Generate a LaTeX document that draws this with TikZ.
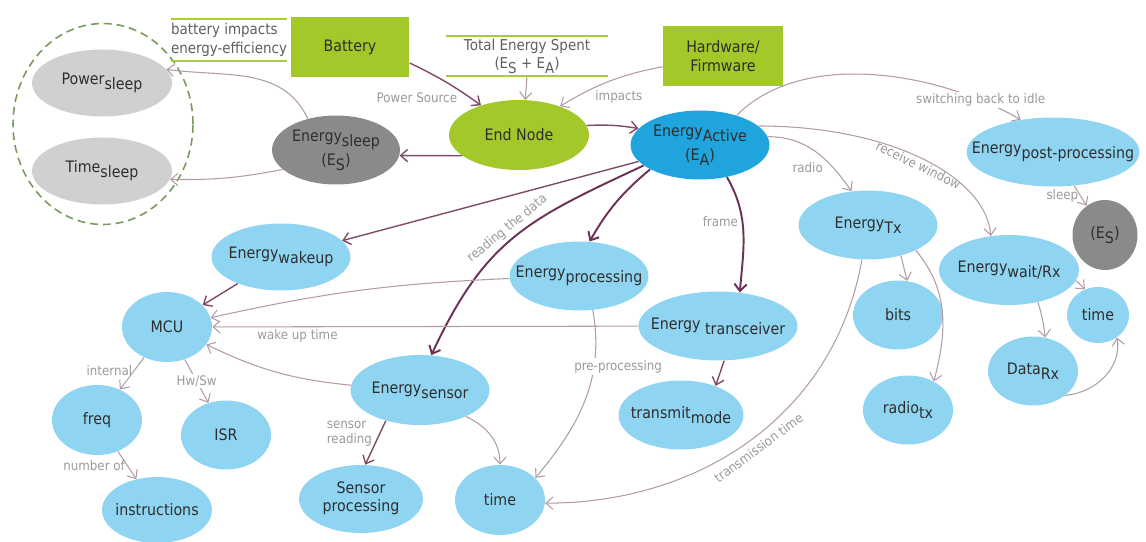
\documentclass[tikz,border=0pt]{standalone}
\usepackage{fontspec}
\setmainfont{DejaVu Sans}[FakeStretch=0.9]
\usetikzlibrary{arrows.meta,shapes.geometric}

\definecolor{cmblue}{HTML}{8FD5F2}
\definecolor{cmactive}{HTML}{1FA4DE}
\definecolor{cmgreen}{HTML}{A3C82A}
\definecolor{cmgrey}{HTML}{D0D0D0}
\definecolor{cmdark}{HTML}{8A8A8A}
\definecolor{nodetext}{HTML}{2E2E2E}
\definecolor{phrasetext}{HTML}{5F5F5F}
\definecolor{labeltext}{HTML}{9A9A9A}
\definecolor{darklink}{HTML}{6A3256}
\definecolor{midlink}{HTML}{7E4B69}
\definecolor{lightlink}{HTML}{B39AA9}
\definecolor{ringgreen}{HTML}{789A5C}
\definecolor{phraseline}{HTML}{A8CC3A}

\newcommand\cmfont{\fontsize{9}{10.5}\selectfont}
\newcommand\labfont{\fontsize{7.5}{8.5}\selectfont}
\newcommand\phrasefont{\fontsize{8.5}{10.5}\selectfont}
\newcommand\lowsub[1]{\raisebox{-.3em}{#1}}

\begin{document}
\begin{tikzpicture}[->,>={Straight Barb[length=4pt,width=7pt]},x=0.02cm,y=0.02cm,
    concept/.style={ellipse,inner sep=0pt,text=nodetext,font=\cmfont,
      execute at begin node={\hbox to 0pt\bgroup\hss},
      execute at end node={\hss\egroup}},
    blue concept/.style={concept,fill=cmblue},
    grey concept/.style={concept,fill=cmgrey},
    block/.style={rectangle,fill=cmgreen,text=nodetext,font=\cmfont,align=center,
      minimum width=2.4cm,minimum height=1.2cm},
    phrase/.style={rectangle,text=phrasetext,font=\phrasefont,inner sep=0pt},
    sleep ring/.style={ellipse,draw=ringgreen,dashed,line width=.9pt,
      dash pattern=on 4.5pt off 2.8pt,minimum width=3.6cm,minimum height=4.02cm},
    wide size/.style={minimum width=2.78cm,minimum height=1.38cm},
    small size/.style={minimum width=1.8cm,minimum height=1.38cm},
    lab/.style={font=\labfont,text=labeltext,inner sep=1pt},
    dark link/.style={every edge/.append style={draw=darklink,line width=1.1pt}},
    mid link/.style={every edge/.append style={draw=midlink,line width=.8pt}},
    light link/.style={every edge/.append style={draw=lightlink,line width=.6pt}}]

  \useasboundingbox (0,0) rectangle (1146,-541);

  % sleep side
  \node[sleep ring] (sleepgrp) at (103,-124) {};
  \node[grey concept,minimum width=2.8cm,minimum height=1.34cm] (psleep) at (102,-83) {Power\lowsub{sleep}};
  \node[grey concept,minimum width=2.8cm,minimum height=1.34cm] (tsleep) at (102,-171) {Time\lowsub{sleep}};
  \node[concept,fill=cmdark,minimum width=2.56cm,minimum height=1.38cm] (esleep) at (336,-150)
    {\begin{tabular}{@{}c@{}}Energy\lowsub{sleep}\\[3pt](E\lowsub{S})\end{tabular}};
  \node[block,minimum width=2.38cm,minimum height=1.22cm] (battery) at (350,-47) {Battery};
  \node[phrase,align=left,minimum width=2.32cm,minimum height=.82cm] (impacts) at (229,-40)
    {battery impacts\\energy-efficiency};

  % top
  \node[phrase,align=center,minimum width=3.22cm,minimum height=.8cm] (total) at (527,-56)
    {Total Energy Spent\\(E\lowsub{S} + E\lowsub{A})};
  \node[block] (hw) at (723,-56) {Hardware/\\Firmware};
  \node[concept,fill=cmgreen,minimum width=2.8cm,minimum height=1.4cm] (endnode) at (519,-135) {End Node};
  \node[concept,fill=cmactive,wide size] (eactive) at (700,-145)
    {\begin{tabular}{@{}c@{}}Energy\lowsub{Active}\\[3pt](E\lowsub{A})\end{tabular}};

  % right side
  \node[blue concept,minimum width=3.46cm,minimum height=1.38cm] (epost) at (1053,-152) {Energy\lowsub{post-processing}};
  \node[concept,fill=cmdark,minimum width=1.3cm,minimum height=1.4cm] (es2) at (1105,-235) {(E\lowsub{S})};
  \node[blue concept,wide size] (etx) at (868,-225) {Energy\lowsub{Tx}};
  \node[blue concept,minimum width=2.8cm,minimum height=1.4cm] (ewait) at (1009,-270) {Energy\lowsub{wait/Rx}};
  \node[blue concept,minimum width=1.24cm,minimum height=1.12cm] (rtime) at (1098,-315) {time};
  \node[blue concept,small size] (bits) at (898,-315) {bits};
  \node[blue concept,small size] (radiotx) at (908,-410) {radio\lowsub{tx}};
  \node[blue concept,small size] (datarx) at (1033,-371) {Data\lowsub{Rx}};

  % lower left
  \node[blue concept,minimum width=2.78cm,minimum height=1.34cm] (ewakeup) at (281,-257) {Energy\lowsub{wakeup}};
  \node[blue concept,small size,minimum height=1.4cm] (mcu) at (167,-327) {MCU};
  \node[blue concept,small size,minimum height=1.4cm] (freq) at (97,-420) {freq};
  \node[blue concept,small size] (isr) at (226,-435) {ISR};
  \node[blue concept,minimum width=2.2cm,minimum height=1.32cm] (instr) at (157,-510) {instructions};
  \node[blue concept,minimum width=2.48cm,minimum height=1.36cm] (sensproc) at (361,-499)
    {\begin{tabular}{@{}c@{}}Sensor\\processing\end{tabular}};
  \node[blue concept,minimum width=2.78cm,minimum height=1.4cm] (esensor) at (420,-390) {Energy\lowsub{sensor}};
  \node[blue concept,small size,minimum height=1.4cm] (btime) at (500,-500) {time};
  \node[blue concept,wide size] (eproc) at (579,-276) {Energy\lowsub{processing}};
  \node[blue concept,minimum width=3.18cm,minimum height=1.38cm] (etrans) at (718,-326) {Energy \lowsub{transceiver}};
  \node[blue concept,minimum width=2.5cm,minimum height=1.38cm] (tmode) at (681,-415) {transmit\lowsub{mode}};

  \foreach \p in {impacts,total}
    \draw[-,phraseline,line width=1pt] (\p.north west) -- (\p.north east) (\p.south west) -- (\p.south east);

  % links
  \path[light link]
    (esleep.132) edge[out=115,in=-8] (psleep.12)
    (esleep.200) edge[bend left=6] (tsleep.-7)
    (total.south) edge (endnode.80)
    (hw.190) edge[bend right=10] node[lab,pos=.4,below=6pt] (limpacts) {impacts} (endnode.35);
  \path[mid link]
    (battery.-15) edge[bend left=5] node[lab,pos=.7,anchor=north east] (lpower) {Power Source} (endnode.142)
    (endnode.200) edge (esleep.-5)
    (endnode.8) edge[bend left=6] (eactive.165)
    (eactive) edge (ewakeup)
    (ewakeup) edge (mcu)
    (esensor.222) edge node[lab,pos=.3,left=3pt,align=left] (lreading) {sensor\\reading} (sensproc.83)
    (etrans.-80) edge (tmode.40);
  \path[dark link]
    (eactive.206) edge[out=220,in=60] (eproc.73)
    (eactive.-50) edge[out=-60,in=85] node[lab,pos=.4,left=1pt] (lframe) {frame} (etrans.57)
    (eactive.200) edge[out=205,in=65,looseness=1.15] node[lab,pos=.5,sloped,above=1pt] (ldata) {reading the data} (esensor.72);
  \path[light link]
    (eactive.39) edge[out=45,in=150,looseness=.85] node[lab,pos=.85,fill=white] (lidle) {switching back to idle} (epost.135)
    (epost) edge node[lab,left] (lsleep) {sleep} (es2)
    (eactive.7) edge[out=0,in=125] node[lab,pos=.4,below=8pt] (lradio) {radio} (etx.116)
    (eactive.18) edge[out=0,in=95,out looseness=1.3,in looseness=.6] node[lab,pos=.5,sloped,below] (lwindow) {receive window} (ewait.118)
    (etx.-100) edge[out=-100,in=0] node[lab,pos=.5,sloped,below=2pt] (ltrans) {transmission time} (btime.-4)
    (etx.-43) edge (bits.75)
    (etx.-28) edge[out=-50,in=75] (radiotx.48)
    (ewait.-48) edge[bend left=5] (datarx.70)
    (ewait.-9) edge (rtime.117)
    (datarx.-37) edge[out=5,in=-80] (rtime.-50);
  \path[light link]
    (eproc) edge[bend right=5] (mcu)
    (etrans) edge node[lab,pos=.8,below] (lwake) {wake up time} (mcu)
    (esensor) edge[bend left=10] (mcu)
    (mcu) edge node[lab,pos=.4,left] (linternal) {internal} (freq)
    (mcu) edge node[lab,fill=white] (lhwsw) {Hw/Sw} (isr)
    (freq) edge node[lab,left] (lnumber) {number of} (instr)
    (esensor.-30) edge[out=-25,in=90] (btime.north)
    (eproc.-68) edge[out=-80,in=50] node[lab,pos=.3,fill=white,xshift=.48cm] (lpre) {pre-processing} (btime.32);
\end{tikzpicture}
\end{document}
